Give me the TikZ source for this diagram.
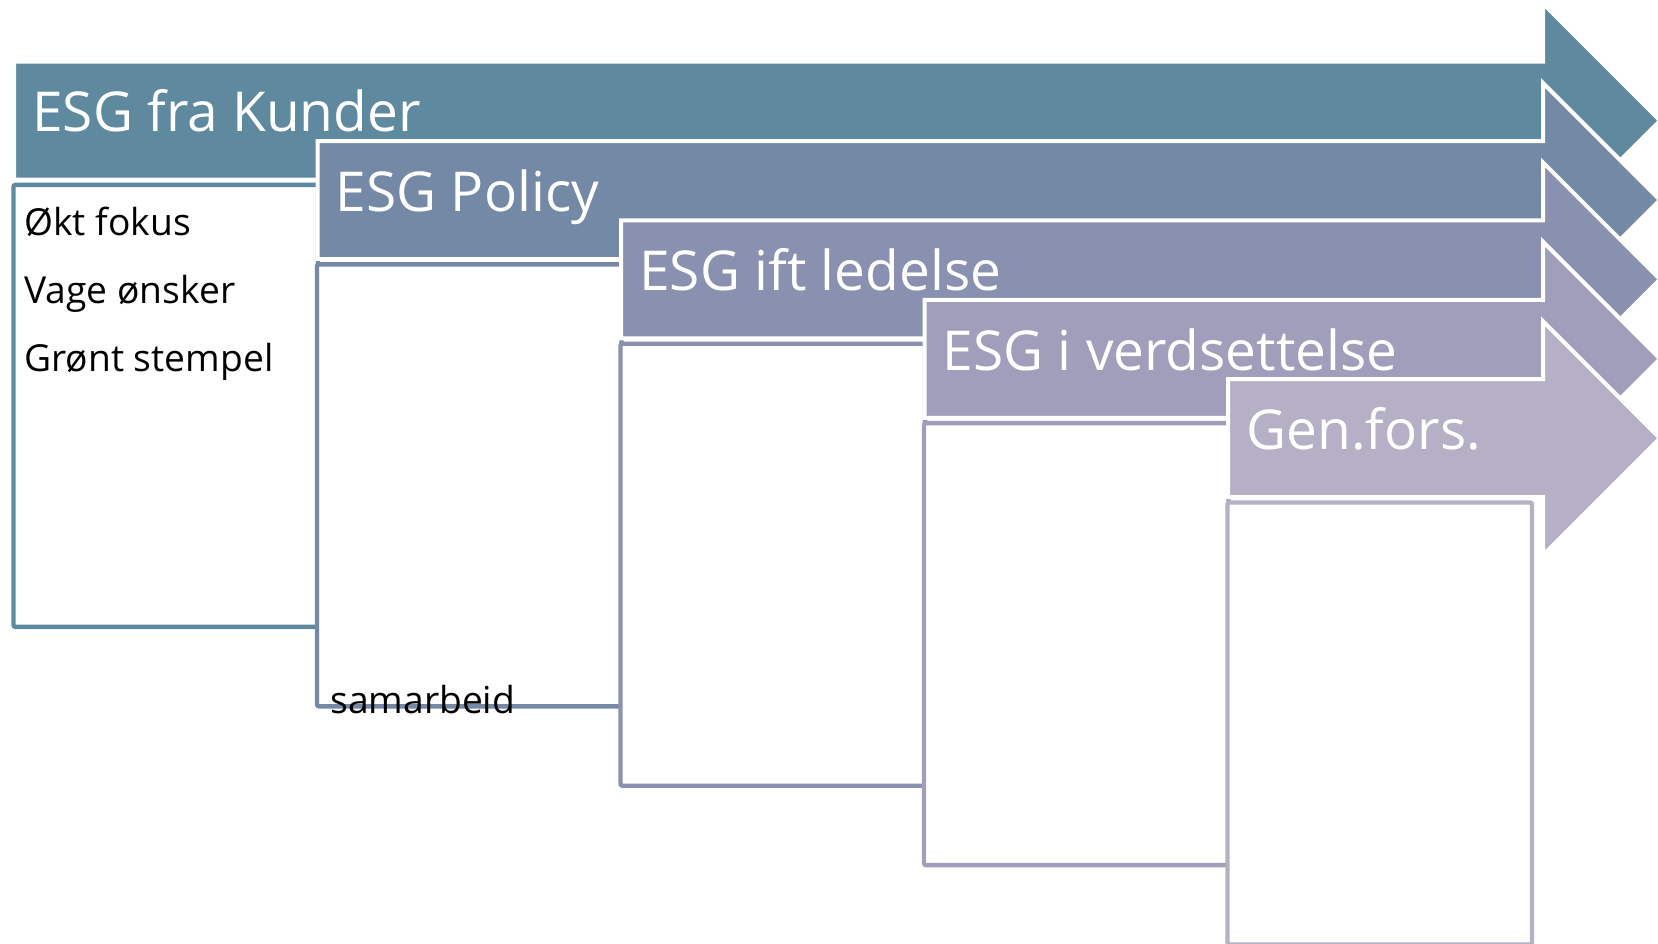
\documentclass[tikz,border=0pt]{standalone}
\usepackage{fontspec}
\setmainfont{Open Sans}
\definecolor{cA}{HTML}{5E899E}
\definecolor{cB}{HTML}{7489A6}
\definecolor{cC}{HTML}{8A91B0}
\definecolor{cD}{HTML}{A09EBA}
\definecolor{cE}{HTML}{B5B0C6}
\begin{document}
\begin{tikzpicture}[x=0.5pt,y=-0.5pt,
  arrowshape/.style={fill=#1,draw=white,line width=2pt,line join=miter},
  boxshape/.style={fill=white,draw=#1,line width=2.2pt,rounded corners=1pt},
  titletext/.style={anchor=base west,inner sep=0pt,text=white,font=\fontsize{27.5}{30}\selectfont},
  bodytext/.style={anchor=base west,inner sep=0pt,text=black,font=\fontsize{18.6}{22}\selectfont}]
\useasboundingbox (0,0) rectangle (1658,943);
\foreach \i/\col/\txt in {0/cA/ESG fra Kunder,1/cB/ESG Policy,2/cC/ESG ift ledelse,3/cD/ESG i verdsettelse,4/cE/Gen.fors.}{
  \pgfmathsetmacro{\L}{14+303.5*\i}
  \pgfmathsetmacro{\T}{61.6+79.4*\i}
  \pgfmathsetmacro{\B}{\T+118}
  \pgfmathsetmacro{\C}{\T+59}
  \pgfmathsetmacro{\HT}{\C-117}
  \pgfmathsetmacro{\HB}{\C+117}
  \pgfmathsetmacro{\BL}{\L-0.5}
  \pgfmathsetmacro{\BT}{\T+123.3}
  \draw[arrowshape=\col] (\L,\T) -- (1543,\T) -- (1543,\HT) -- (1660,\C) -- (1543,\HB) -- (1543,\B) -- (\L,\B) -- cycle;
  \node[titletext] (title\i) at (\L+18,\T+70.3) {\txt};
  \draw[boxshape=\col] (\BL,\BT) rectangle ++(304.5,442);
}
\node[bodytext] (t1) at (24,235) {Økt fokus};
\node[bodytext] (t2) at (24,303) {Vage ønsker};
\node[bodytext] (t3) at (24,371) {Grønt stempel};
\node[bodytext] (t4) at (330,713) {samarbeid};
\end{tikzpicture}
\end{document}
